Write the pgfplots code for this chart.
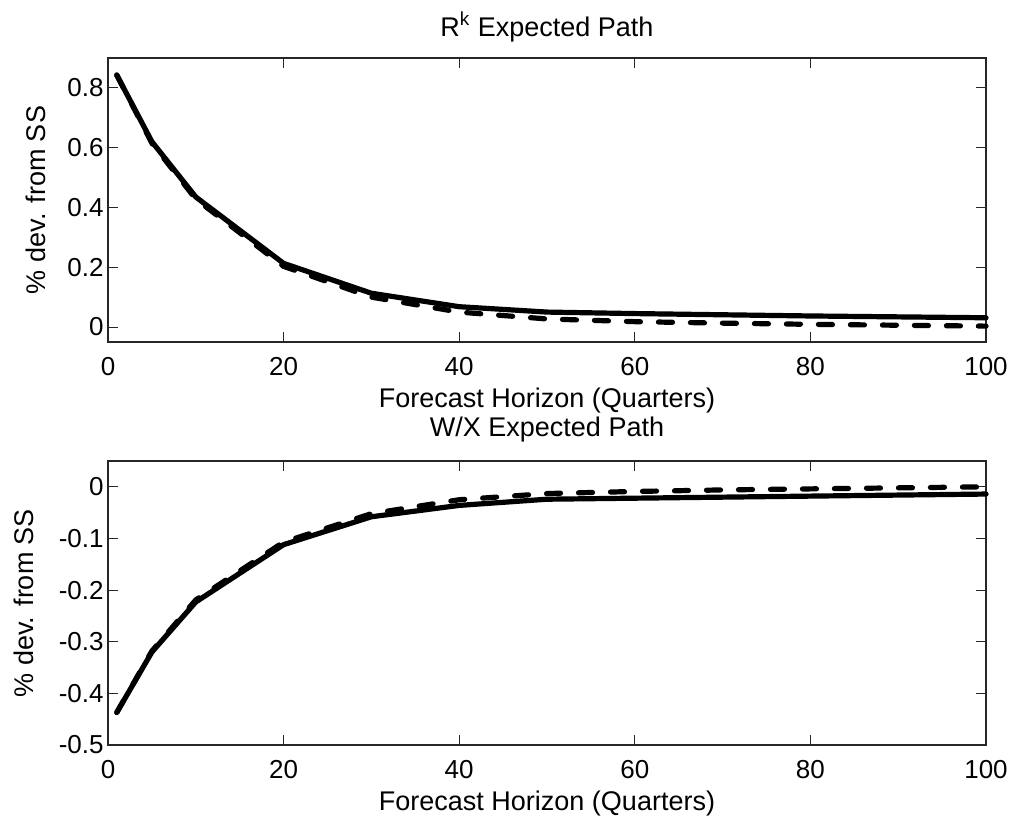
\documentclass[border=0pt]{standalone}
\usepackage{fontspec}
\setmainfont{Liberation Sans}
\usepackage{pgfplots}
\pgfplotsset{compat=1.18}

\pgfplotsset{
  irfaxis/.style={
    scale only axis,
    width=439pt, height=142pt,
    xmin=0, xmax=100,
    xtick={0,20,40,60,80,100},
    tick align=inside,
    xtick pos=both, ytick pos=both,
    major tick length=5pt,
    axis line style={line width=0.7pt, black!85},
    every tick/.style={black!85, line width=0.5pt},
    clip=false,
    font=\fontsize{13}{15}\selectfont,
    /pgf/number format/assume math mode=true,
    yticklabel style={/pgf/number format/fixed, /pgf/number format/precision=1, inner sep=2pt},
    xticklabel style={yshift=-4pt},
    xlabel={Forecast Horizon (Quarters)},
    xlabel style={at={(axis description cs:0.5,0)}, anchor=center, yshift=-29.5pt, font=\fontsize{13.5}{15}\selectfont},
    title style={at={(axis description cs:0.5,1)}, anchor=center, yshift=9.5pt, font=\fontsize{13.5}{15}\selectfont},
    ylabel={\% dev. from SS},
    ylabel style={rotate=0, font=\fontsize{13.5}{15}\selectfont},
  },
  solidpath/.style={black, line width=2.6pt, line join=round, line cap=round},
  dashedpath/.style={black, line width=2.6pt, line join=round, line cap=round, dash pattern=on 7pt off 9pt},
}

\begin{document}
\begin{tikzpicture}
\useasboundingbox (-54pt,29pt) rectangle (453.5pt,-380pt);

% R^k expected path
\begin{axis}[
  irfaxis,
  at={(0pt,0pt)}, anchor=north west,
  ymin=-0.05, ymax=0.9,
  ytick={0,0.2,0.4,0.6,0.8},
  title={R\textsuperscript{k} Expected Path},
  ylabel style={at={(axis description cs:-0.082,0.5)}, anchor=center},
]
\addplot[solidpath] coordinates {
  (1,0.843) (5,0.62) (10,0.435) (20,0.213) (30,0.113) (40,0.068) (50,0.05)
  (60,0.045) (70,0.041) (80,0.037) (90,0.034) (100,0.031)
};
\addplot[dashedpath] coordinates {
  (1,0.843) (5,0.615) (10,0.428) (20,0.203) (30,0.1) (40,0.05) (50,0.027)
  (60,0.018) (70,0.013) (80,0.009) (90,0.006) (100,0.003)
};
\end{axis}

% W/X expected path
\begin{axis}[
  irfaxis,
  at={(0pt,-201.5pt)}, anchor=north west,
  ymin=-0.5, ymax=0.05,
  ytick={-0.5,-0.4,-0.3,-0.2,-0.1,0},
  title={W/X Expected Path},
  ylabel style={at={(axis description cs:-0.096,0.5)}, anchor=center},
]
\addplot[solidpath] coordinates {
  (1,-0.437) (5,-0.32) (10,-0.223) (20,-0.112) (30,-0.058) (40,-0.036) (50,-0.024)
  (60,-0.022) (70,-0.020) (80,-0.018) (90,-0.016) (100,-0.014)
};
\addplot[dashedpath] coordinates {
  (1,-0.437) (5,-0.318) (10,-0.219) (20,-0.107) (30,-0.052) (40,-0.025) (50,-0.013)
  (60,-0.009) (70,-0.006) (80,-0.004) (90,-0.002) (100,0.0)
};
\end{axis}
\end{tikzpicture}
\end{document}
